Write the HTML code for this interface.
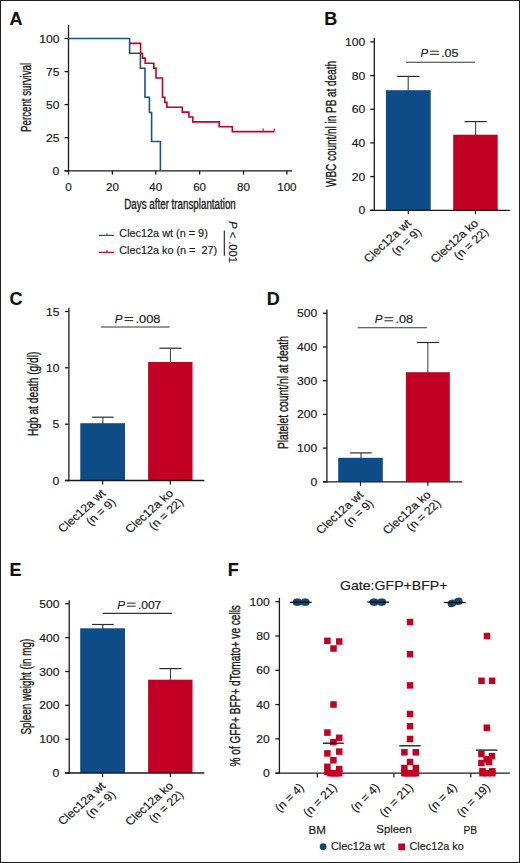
<!DOCTYPE html><html><head><meta charset="utf-8"><style>html,body{margin:0;padding:0;background:#fff;}svg{display:block;}text{font-family:"Liberation Sans",sans-serif;stroke:#1a1a1a;stroke-width:0.18px;}</style></head><body>
<svg width="520" height="863" viewBox="0 0 520 863">
<rect x="0" y="0" width="520" height="863" fill="#fff"/>
<text x="9.6" y="24.7" font-size="18" font-weight="bold" fill="#111">A</text>
<text x="324.3" y="24.7" font-size="18" font-weight="bold" fill="#111">B</text>
<text x="9.6" y="305" font-size="18" font-weight="bold" fill="#111">C</text>
<text x="266.8" y="304.8" font-size="18" font-weight="bold" fill="#111">D</text>
<text x="9.6" y="576.1" font-size="18" font-weight="bold" fill="#111">E</text>
<text x="227.7" y="576.2" font-size="18" font-weight="bold" fill="#111">F</text>
<line x1="68.5" y1="24.8" x2="68.5" y2="171.45000000000002" stroke="#1a1a1a" stroke-width="1.3"/>
<line x1="64.5" y1="38.5" x2="68.5" y2="38.5" stroke="#1a1a1a" stroke-width="1.3"/>
<text x="59.4" y="42.5" font-size="11.2" text-anchor="end" textLength="20.2" lengthAdjust="spacingAndGlyphs" fill="#1a1a1a">100</text>
<line x1="64.5" y1="71.6" x2="68.5" y2="71.6" stroke="#1a1a1a" stroke-width="1.3"/>
<text x="59.4" y="75.6" font-size="11.2" text-anchor="end" textLength="13.5" lengthAdjust="spacingAndGlyphs" fill="#1a1a1a">75</text>
<line x1="64.5" y1="104.6" x2="68.5" y2="104.6" stroke="#1a1a1a" stroke-width="1.3"/>
<text x="59.4" y="108.6" font-size="11.2" text-anchor="end" textLength="13.5" lengthAdjust="spacingAndGlyphs" fill="#1a1a1a">50</text>
<line x1="64.5" y1="137.7" x2="68.5" y2="137.7" stroke="#1a1a1a" stroke-width="1.3"/>
<text x="59.4" y="141.7" font-size="11.2" text-anchor="end" textLength="13.5" lengthAdjust="spacingAndGlyphs" fill="#1a1a1a">25</text>
<line x1="64.5" y1="170.8" x2="68.5" y2="170.8" stroke="#1a1a1a" stroke-width="1.3"/>
<text x="59.4" y="174.8" font-size="11.2" text-anchor="end" textLength="6.8" lengthAdjust="spacingAndGlyphs" fill="#1a1a1a">0</text>
<line x1="64.5" y1="170.8" x2="292" y2="170.8" stroke="#1a1a1a" stroke-width="1.3"/>
<line x1="68.5" y1="170.8" x2="68.5" y2="174.6" stroke="#1a1a1a" stroke-width="1.3"/>
<text x="68.5" y="190.6" font-size="11.2" text-anchor="middle" textLength="6.5" lengthAdjust="spacingAndGlyphs" fill="#1a1a1a">0</text>
<line x1="112.4" y1="170.8" x2="112.4" y2="174.6" stroke="#1a1a1a" stroke-width="1.3"/>
<text x="112.4" y="190.6" font-size="11.2" text-anchor="middle" textLength="12.9" lengthAdjust="spacingAndGlyphs" fill="#1a1a1a">20</text>
<line x1="155.8" y1="170.8" x2="155.8" y2="174.6" stroke="#1a1a1a" stroke-width="1.3"/>
<text x="155.8" y="190.6" font-size="11.2" text-anchor="middle" textLength="12.9" lengthAdjust="spacingAndGlyphs" fill="#1a1a1a">40</text>
<line x1="199.6" y1="170.8" x2="199.6" y2="174.6" stroke="#1a1a1a" stroke-width="1.3"/>
<text x="199.6" y="190.6" font-size="11.2" text-anchor="middle" textLength="12.9" lengthAdjust="spacingAndGlyphs" fill="#1a1a1a">60</text>
<line x1="243.5" y1="170.8" x2="243.5" y2="174.6" stroke="#1a1a1a" stroke-width="1.3"/>
<text x="243.5" y="190.6" font-size="11.2" text-anchor="middle" textLength="12.9" lengthAdjust="spacingAndGlyphs" fill="#1a1a1a">80</text>
<line x1="286.9" y1="170.8" x2="286.9" y2="174.6" stroke="#1a1a1a" stroke-width="1.3"/>
<text x="286.9" y="190.6" font-size="11.2" text-anchor="middle" textLength="19.4" lengthAdjust="spacingAndGlyphs" fill="#1a1a1a">100</text>
<text x="124.3" y="209.3" font-size="14" textLength="111.5" lengthAdjust="spacingAndGlyphs" style="stroke-width:0.35px" fill="#1a1a1a">Days after transplantation</text>
<text transform="translate(30.9,131.9) rotate(-90)" x="0" y="0" font-size="14" textLength="69" lengthAdjust="spacingAndGlyphs" style="stroke-width:0.35px" fill="#1a1a1a">Percent survival</text>
<path d="M129.6,43.4 H140.6 V53.4 H142.5 V58.1 H145.2 V63.2 H153.8 V68.1 H156 V78 H162.5 V97.3 H164.8 V102.4 H166.9 V107.2 H182.3 V112.1 H188.9 V117 H192.8 V121.9 H219.2 V126.8 H232.3 V131.6 H274.2" fill="none" stroke="#c10023" stroke-width="1.6"/>
<path d="M263.1,131.6 V128.3 M274.2,131.6 V128.3" fill="none" stroke="#c10023" stroke-width="1"/>
<path d="M68.5,38.5 H129.6 V53.2 H140.4 V68.2 H145 V97.3 H149.4 V112.5 H151.6 V141.5 H160.4 V170.8" fill="none" stroke="#1f5287" stroke-width="1.6"/>
<line x1="98.8" y1="235.4" x2="114.2" y2="235.4" stroke="#1f5287" stroke-width="1.2"/>
<line x1="107" y1="235.4" x2="107" y2="233.2" stroke="#1f5287" stroke-width="1"/>
<line x1="98.8" y1="252.3" x2="114.2" y2="252.3" stroke="#c10023" stroke-width="1.2"/>
<line x1="107" y1="252.3" x2="107" y2="250.1" stroke="#c10023" stroke-width="1"/>
<text x="119.3" y="237.3" font-size="11.2" textLength="88.5" lengthAdjust="spacingAndGlyphs" fill="#1a1a1a">Clec12a wt (n = 9)</text>
<text x="119.3" y="254.2" font-size="11.2" textLength="97.8" lengthAdjust="spacingAndGlyphs" xml:space="preserve" fill="#1a1a1a">Clec12a ko (n =  27)</text>
<line x1="224.3" y1="230.4" x2="224.3" y2="255.8" stroke="#1a1a1a" stroke-width="1.1"/>
<text transform="translate(229.3,221.3) rotate(90)" x="0" y="0" font-size="11" textLength="41.5" lengthAdjust="spacingAndGlyphs" fill="#1a1a1a"><tspan font-style="italic">P</tspan> &lt; .001</text>
<line x1="408.2" y1="76.4" x2="408.2" y2="91.2" stroke="#444" stroke-width="1.1"/>
<line x1="396.9" y1="76.4" x2="419.5" y2="76.4" stroke="#2a2a2a" stroke-width="1.2"/>
<line x1="475.6" y1="121.6" x2="475.6" y2="135.7" stroke="#444" stroke-width="1.1"/>
<line x1="464.5" y1="121.6" x2="486.7" y2="121.6" stroke="#2a2a2a" stroke-width="1.2"/>
<rect x="385.9" y="90.2" width="44.8" height="120.1" fill="#0d4c87"/>
<rect x="453.2" y="134.7" width="44.5" height="75.6" fill="#c10023"/>
<line x1="374.3" y1="37.7" x2="374.3" y2="210.95000000000002" stroke="#1a1a1a" stroke-width="1.3"/>
<line x1="370.3" y1="41.9" x2="374.3" y2="41.9" stroke="#1a1a1a" stroke-width="1.3"/>
<text x="365.2" y="45.9" font-size="11.2" text-anchor="end" textLength="20.2" lengthAdjust="spacingAndGlyphs" fill="#1a1a1a">100</text>
<line x1="370.3" y1="75.6" x2="374.3" y2="75.6" stroke="#1a1a1a" stroke-width="1.3"/>
<text x="365.2" y="79.6" font-size="11.2" text-anchor="end" textLength="13.5" lengthAdjust="spacingAndGlyphs" fill="#1a1a1a">80</text>
<line x1="370.3" y1="109.3" x2="374.3" y2="109.3" stroke="#1a1a1a" stroke-width="1.3"/>
<text x="365.2" y="113.3" font-size="11.2" text-anchor="end" textLength="13.5" lengthAdjust="spacingAndGlyphs" fill="#1a1a1a">60</text>
<line x1="370.3" y1="142.9" x2="374.3" y2="142.9" stroke="#1a1a1a" stroke-width="1.3"/>
<text x="365.2" y="146.9" font-size="11.2" text-anchor="end" textLength="13.5" lengthAdjust="spacingAndGlyphs" fill="#1a1a1a">40</text>
<line x1="370.3" y1="176.6" x2="374.3" y2="176.6" stroke="#1a1a1a" stroke-width="1.3"/>
<text x="365.2" y="180.6" font-size="11.2" text-anchor="end" textLength="13.5" lengthAdjust="spacingAndGlyphs" fill="#1a1a1a">20</text>
<line x1="370.3" y1="210.3" x2="374.3" y2="210.3" stroke="#1a1a1a" stroke-width="1.3"/>
<text x="365.2" y="214.3" font-size="11.2" text-anchor="end" textLength="6.8" lengthAdjust="spacingAndGlyphs" fill="#1a1a1a">0</text>
<line x1="370.3" y1="210.3" x2="510" y2="210.3" stroke="#1a1a1a" stroke-width="1.3"/>
<line x1="408.29999999999995" y1="210.3" x2="408.29999999999995" y2="214.3" stroke="#1a1a1a" stroke-width="1.2"/>
<line x1="475.45" y1="210.3" x2="475.45" y2="214.3" stroke="#1a1a1a" stroke-width="1.2"/>
<line x1="405.9" y1="62.2" x2="475.1" y2="62.2" stroke="#333" stroke-width="1.1"/>
<text x="420.4" y="56.699999999999996" font-size="11.6" font-style="italic" fill="#1a1a1a">P</text>
<path d="M430.1,51.2 h8.8 M430.1,54.3 h8.8" stroke="#1a1a1a" stroke-width="0.95" fill="none"/>
<text x="441.1" y="56.699999999999996" font-size="11.6" textLength="17.5" lengthAdjust="spacingAndGlyphs" fill="#1a1a1a">.05</text>
<text transform="translate(336.1,187.0) rotate(-90)" x="0" y="0" font-size="14" textLength="126" lengthAdjust="spacingAndGlyphs" style="stroke-width:0.35px" fill="#1a1a1a">WBC count/nl in PB at death</text>
<g transform="translate(412.0,224.0) scale(1.105,1) rotate(-45)" fill="#1a1a1a" font-size="11.2" text-anchor="end"><text x="0" y="0">Clec12a wt</text><text x="0.3" y="12.6">(n = 9)</text></g>
<g transform="translate(479.15,224.0) scale(1.105,1) rotate(-45)" fill="#1a1a1a" font-size="11.2" text-anchor="end"><text x="0" y="0">Clec12a ko</text><text x="0.3" y="12.6">(n = 22)</text></g>
<line x1="102.9" y1="417.2" x2="102.9" y2="424.2" stroke="#444" stroke-width="1.1"/>
<line x1="92.1" y1="417.2" x2="113.7" y2="417.2" stroke="#2a2a2a" stroke-width="1.2"/>
<line x1="170.45" y1="348.2" x2="170.45" y2="363" stroke="#444" stroke-width="1.1"/>
<line x1="159.4" y1="348.2" x2="181.5" y2="348.2" stroke="#2a2a2a" stroke-width="1.2"/>
<rect x="80.3" y="423.2" width="44.7" height="57.3" fill="#0d4c87"/>
<rect x="148.1" y="362" width="44.4" height="118.5" fill="#c10023"/>
<line x1="68.9" y1="307.8" x2="68.9" y2="481.15" stroke="#1a1a1a" stroke-width="1.3"/>
<line x1="64.9" y1="311.5" x2="68.9" y2="311.5" stroke="#1a1a1a" stroke-width="1.3"/>
<text x="59.4" y="315.5" font-size="11.2" text-anchor="end" textLength="13.5" lengthAdjust="spacingAndGlyphs" fill="#1a1a1a">15</text>
<line x1="64.9" y1="367.8" x2="68.9" y2="367.8" stroke="#1a1a1a" stroke-width="1.3"/>
<text x="59.4" y="371.8" font-size="11.2" text-anchor="end" textLength="13.5" lengthAdjust="spacingAndGlyphs" fill="#1a1a1a">10</text>
<line x1="64.9" y1="424.2" x2="68.9" y2="424.2" stroke="#1a1a1a" stroke-width="1.3"/>
<text x="59.4" y="428.2" font-size="11.2" text-anchor="end" textLength="6.8" lengthAdjust="spacingAndGlyphs" fill="#1a1a1a">5</text>
<line x1="64.9" y1="480.5" x2="68.9" y2="480.5" stroke="#1a1a1a" stroke-width="1.3"/>
<text x="59.4" y="484.5" font-size="11.2" text-anchor="end" textLength="6.8" lengthAdjust="spacingAndGlyphs" fill="#1a1a1a">0</text>
<line x1="64.9" y1="480.5" x2="204.4" y2="480.5" stroke="#1a1a1a" stroke-width="1.3"/>
<line x1="102.65" y1="480.5" x2="102.65" y2="484.5" stroke="#1a1a1a" stroke-width="1.2"/>
<line x1="170.3" y1="480.5" x2="170.3" y2="484.5" stroke="#1a1a1a" stroke-width="1.2"/>
<line x1="101" y1="327" x2="169.7" y2="327" stroke="#333" stroke-width="1.1"/>
<text x="114.8" y="323.0" font-size="11.6" font-style="italic" fill="#1a1a1a">P</text>
<path d="M124.5,317.5 h8.8 M124.5,320.6 h8.8" stroke="#1a1a1a" stroke-width="0.95" fill="none"/>
<text x="135.5" y="323.0" font-size="11.6" textLength="25.0" lengthAdjust="spacingAndGlyphs" fill="#1a1a1a">.008</text>
<text transform="translate(37.8,436.1) rotate(-90)" x="0" y="0" font-size="14" textLength="84.5" lengthAdjust="spacingAndGlyphs" style="stroke-width:0.35px" fill="#1a1a1a">Hgb at death (g/dl)</text>
<g transform="translate(106.35,494.2) scale(1.105,1) rotate(-45)" fill="#1a1a1a" font-size="11.2" text-anchor="end"><text x="0" y="0">Clec12a wt</text><text x="0.3" y="12.6">(n = 9)</text></g>
<g transform="translate(174.0,494.2) scale(1.105,1) rotate(-45)" fill="#1a1a1a" font-size="11.2" text-anchor="end"><text x="0" y="0">Clec12a ko</text><text x="0.3" y="12.6">(n = 22)</text></g>
<line x1="360.95" y1="452.9" x2="360.95" y2="458.8" stroke="#444" stroke-width="1.1"/>
<line x1="350.2" y1="452.9" x2="371.7" y2="452.9" stroke="#2a2a2a" stroke-width="1.2"/>
<line x1="427.85" y1="342.5" x2="427.85" y2="373.2" stroke="#444" stroke-width="1.1"/>
<line x1="416.7" y1="342.5" x2="439" y2="342.5" stroke="#2a2a2a" stroke-width="1.2"/>
<rect x="338.2" y="457.8" width="44.6" height="24.0" fill="#0d4c87"/>
<rect x="405.9" y="372.2" width="43.9" height="109.6" fill="#c10023"/>
<line x1="326.9" y1="309.5" x2="326.9" y2="482.45" stroke="#1a1a1a" stroke-width="1.3"/>
<line x1="322.9" y1="313.3" x2="326.9" y2="313.3" stroke="#1a1a1a" stroke-width="1.3"/>
<text x="317.2" y="317.3" font-size="11.2" text-anchor="end" textLength="20.2" lengthAdjust="spacingAndGlyphs" fill="#1a1a1a">500</text>
<line x1="322.9" y1="347" x2="326.9" y2="347" stroke="#1a1a1a" stroke-width="1.3"/>
<text x="317.2" y="351.0" font-size="11.2" text-anchor="end" textLength="20.2" lengthAdjust="spacingAndGlyphs" fill="#1a1a1a">400</text>
<line x1="322.9" y1="380.7" x2="326.9" y2="380.7" stroke="#1a1a1a" stroke-width="1.3"/>
<text x="317.2" y="384.7" font-size="11.2" text-anchor="end" textLength="20.2" lengthAdjust="spacingAndGlyphs" fill="#1a1a1a">300</text>
<line x1="322.9" y1="414.4" x2="326.9" y2="414.4" stroke="#1a1a1a" stroke-width="1.3"/>
<text x="317.2" y="418.4" font-size="11.2" text-anchor="end" textLength="20.2" lengthAdjust="spacingAndGlyphs" fill="#1a1a1a">200</text>
<line x1="322.9" y1="448.1" x2="326.9" y2="448.1" stroke="#1a1a1a" stroke-width="1.3"/>
<text x="317.2" y="452.1" font-size="11.2" text-anchor="end" textLength="20.2" lengthAdjust="spacingAndGlyphs" fill="#1a1a1a">100</text>
<line x1="322.9" y1="481.8" x2="326.9" y2="481.8" stroke="#1a1a1a" stroke-width="1.3"/>
<text x="317.2" y="485.8" font-size="11.2" text-anchor="end" textLength="6.8" lengthAdjust="spacingAndGlyphs" fill="#1a1a1a">0</text>
<line x1="322.9" y1="481.8" x2="462" y2="481.8" stroke="#1a1a1a" stroke-width="1.3"/>
<line x1="360.5" y1="481.8" x2="360.5" y2="485.8" stroke="#1a1a1a" stroke-width="1.2"/>
<line x1="427.85" y1="481.8" x2="427.85" y2="485.8" stroke="#1a1a1a" stroke-width="1.2"/>
<line x1="357.7" y1="327.7" x2="426.9" y2="327.7" stroke="#333" stroke-width="1.1"/>
<text x="374.7" y="323.2" font-size="11.6" font-style="italic" fill="#1a1a1a">P</text>
<path d="M384.4,317.7 h8.8 M384.4,320.8 h8.8" stroke="#1a1a1a" stroke-width="0.95" fill="none"/>
<text x="395.4" y="323.2" font-size="11.6" textLength="17.8" lengthAdjust="spacingAndGlyphs" fill="#1a1a1a">.08</text>
<text transform="translate(288.0,449.1) rotate(-90)" x="0" y="0" font-size="14" textLength="113" lengthAdjust="spacingAndGlyphs" style="stroke-width:0.35px" fill="#1a1a1a">Platelet count/nl at death</text>
<g transform="translate(364.2,495.5) scale(1.105,1) rotate(-45)" fill="#1a1a1a" font-size="11.2" text-anchor="end"><text x="0" y="0">Clec12a wt</text><text x="0.3" y="12.6">(n = 9)</text></g>
<g transform="translate(431.55,495.5) scale(1.105,1) rotate(-45)" fill="#1a1a1a" font-size="11.2" text-anchor="end"><text x="0" y="0">Clec12a ko</text><text x="0.3" y="12.6">(n = 22)</text></g>
<line x1="102.9" y1="624.5" x2="102.9" y2="629.3" stroke="#444" stroke-width="1.1"/>
<line x1="92.1" y1="624.5" x2="113.7" y2="624.5" stroke="#2a2a2a" stroke-width="1.2"/>
<line x1="170.45" y1="668.6" x2="170.45" y2="680.7" stroke="#444" stroke-width="1.1"/>
<line x1="159.4" y1="668.6" x2="181.5" y2="668.6" stroke="#2a2a2a" stroke-width="1.2"/>
<rect x="80.2" y="628.3" width="44.8" height="144.7" fill="#0d4c87"/>
<rect x="148.1" y="679.7" width="44.4" height="93.3" fill="#c10023"/>
<line x1="69.2" y1="600.2" x2="69.2" y2="773.65" stroke="#1a1a1a" stroke-width="1.3"/>
<line x1="65.2" y1="603.8" x2="69.2" y2="603.8" stroke="#1a1a1a" stroke-width="1.3"/>
<text x="59.4" y="607.8" font-size="11.2" text-anchor="end" textLength="20.2" lengthAdjust="spacingAndGlyphs" fill="#1a1a1a">500</text>
<line x1="65.2" y1="637.7" x2="69.2" y2="637.7" stroke="#1a1a1a" stroke-width="1.3"/>
<text x="59.4" y="641.7" font-size="11.2" text-anchor="end" textLength="20.2" lengthAdjust="spacingAndGlyphs" fill="#1a1a1a">400</text>
<line x1="65.2" y1="671.5" x2="69.2" y2="671.5" stroke="#1a1a1a" stroke-width="1.3"/>
<text x="59.4" y="675.5" font-size="11.2" text-anchor="end" textLength="20.2" lengthAdjust="spacingAndGlyphs" fill="#1a1a1a">300</text>
<line x1="65.2" y1="705.3" x2="69.2" y2="705.3" stroke="#1a1a1a" stroke-width="1.3"/>
<text x="59.4" y="709.3" font-size="11.2" text-anchor="end" textLength="20.2" lengthAdjust="spacingAndGlyphs" fill="#1a1a1a">200</text>
<line x1="65.2" y1="739.2" x2="69.2" y2="739.2" stroke="#1a1a1a" stroke-width="1.3"/>
<text x="59.4" y="743.2" font-size="11.2" text-anchor="end" textLength="20.2" lengthAdjust="spacingAndGlyphs" fill="#1a1a1a">100</text>
<line x1="65.2" y1="773" x2="69.2" y2="773" stroke="#1a1a1a" stroke-width="1.3"/>
<text x="59.4" y="777.0" font-size="11.2" text-anchor="end" textLength="6.8" lengthAdjust="spacingAndGlyphs" fill="#1a1a1a">0</text>
<line x1="65.2" y1="773" x2="204.4" y2="773" stroke="#1a1a1a" stroke-width="1.3"/>
<line x1="102.6" y1="773" x2="102.6" y2="777" stroke="#1a1a1a" stroke-width="1.2"/>
<line x1="170.3" y1="773" x2="170.3" y2="777" stroke="#1a1a1a" stroke-width="1.2"/>
<line x1="102.9" y1="613.4" x2="172.1" y2="613.4" stroke="#333" stroke-width="1.1"/>
<text x="117.2" y="608.5999999999999" font-size="11.6" font-style="italic" fill="#1a1a1a">P</text>
<path d="M126.9,603.1 h8.8 M126.9,606.2 h8.8" stroke="#1a1a1a" stroke-width="0.95" fill="none"/>
<text x="137.9" y="608.5999999999999" font-size="11.6" textLength="23.4" lengthAdjust="spacingAndGlyphs" fill="#1a1a1a">.007</text>
<text transform="translate(30.6,734.6) rotate(-90)" x="0" y="0" font-size="14" textLength="96" lengthAdjust="spacingAndGlyphs" style="stroke-width:0.35px" fill="#1a1a1a">Spleen weight (in mg)</text>
<g transform="translate(106.3,786.7) scale(1.105,1) rotate(-45)" fill="#1a1a1a" font-size="11.2" text-anchor="end"><text x="0" y="0">Clec12a wt</text><text x="0.3" y="12.6">(n = 9)</text></g>
<g transform="translate(174.0,786.7) scale(1.105,1) rotate(-45)" fill="#1a1a1a" font-size="11.2" text-anchor="end"><text x="0" y="0">Clec12a ko</text><text x="0.3" y="12.6">(n = 22)</text></g>
<line x1="279.4" y1="597.7" x2="279.4" y2="773.85" stroke="#1a1a1a" stroke-width="1.3"/>
<line x1="275.4" y1="601.7" x2="279.4" y2="601.7" stroke="#1a1a1a" stroke-width="1.3"/>
<text x="269.8" y="605.7" font-size="11.2" text-anchor="end" textLength="20.2" lengthAdjust="spacingAndGlyphs" fill="#1a1a1a">100</text>
<line x1="275.4" y1="636" x2="279.4" y2="636" stroke="#1a1a1a" stroke-width="1.3"/>
<text x="269.8" y="640.0" font-size="11.2" text-anchor="end" textLength="13.5" lengthAdjust="spacingAndGlyphs" fill="#1a1a1a">80</text>
<line x1="275.4" y1="670.3" x2="279.4" y2="670.3" stroke="#1a1a1a" stroke-width="1.3"/>
<text x="269.8" y="674.3" font-size="11.2" text-anchor="end" textLength="13.5" lengthAdjust="spacingAndGlyphs" fill="#1a1a1a">60</text>
<line x1="275.4" y1="704.6" x2="279.4" y2="704.6" stroke="#1a1a1a" stroke-width="1.3"/>
<text x="269.8" y="708.6" font-size="11.2" text-anchor="end" textLength="13.5" lengthAdjust="spacingAndGlyphs" fill="#1a1a1a">40</text>
<line x1="275.4" y1="738.9" x2="279.4" y2="738.9" stroke="#1a1a1a" stroke-width="1.3"/>
<text x="269.8" y="742.9" font-size="11.2" text-anchor="end" textLength="13.5" lengthAdjust="spacingAndGlyphs" fill="#1a1a1a">20</text>
<line x1="275.4" y1="773.2" x2="279.4" y2="773.2" stroke="#1a1a1a" stroke-width="1.3"/>
<text x="269.8" y="777.2" font-size="11.2" text-anchor="end" textLength="6.8" lengthAdjust="spacingAndGlyphs" fill="#1a1a1a">0</text>
<line x1="275.4" y1="773.2" x2="509.8" y2="773.2" stroke="#1a1a1a" stroke-width="1.3"/>
<line x1="317.3" y1="773.2" x2="317.3" y2="777.5" stroke="#1a1a1a" stroke-width="1.2"/>
<line x1="393.9" y1="773.2" x2="393.9" y2="777.5" stroke="#1a1a1a" stroke-width="1.2"/>
<line x1="470.8" y1="773.2" x2="470.8" y2="777.5" stroke="#1a1a1a" stroke-width="1.2"/>
<text x="340" y="590" font-size="13.4" textLength="107.5" lengthAdjust="spacingAndGlyphs" fill="#1a1a1a">Gate:GFP+BFP+</text>
<text transform="translate(240.2,766.4) rotate(-90)" x="0" y="0" font-size="14" textLength="161.3" lengthAdjust="spacingAndGlyphs" style="stroke-width:0.35px" fill="#1a1a1a">% of GFP+ BFP+ dTomato+ ve cells</text>
<circle cx="296.3" cy="602.2" r="3.6" fill="#17436f"/>
<circle cx="298.3" cy="602.2" r="3.6" fill="#17436f"/>
<circle cx="304.3" cy="602.2" r="3.6" fill="#17436f"/>
<circle cx="306.0" cy="602.2" r="3.6" fill="#17436f"/>
<line x1="290.2" y1="602.3" x2="311.7" y2="602.3" stroke="#111" stroke-width="1.3"/>
<circle cx="373.2" cy="602.1" r="3.6" fill="#17436f"/>
<circle cx="375.0" cy="602.1" r="3.6" fill="#17436f"/>
<circle cx="380.8" cy="602.1" r="3.6" fill="#17436f"/>
<circle cx="382.6" cy="602.1" r="3.6" fill="#17436f"/>
<line x1="367.2" y1="602.1" x2="389" y2="602.1" stroke="#111" stroke-width="1.3"/>
<circle cx="451.3" cy="603.6" r="3.6" fill="#17436f"/>
<circle cx="452.5" cy="603.2" r="3.6" fill="#17436f"/>
<circle cx="457.5" cy="601.5" r="3.6" fill="#17436f"/>
<circle cx="459.0" cy="601.2" r="3.6" fill="#17436f"/>
<line x1="444.1" y1="602.5" x2="465.7" y2="602.5" stroke="#111" stroke-width="1.3"/>
<rect x="324.15" y="637.55" width="6.5" height="6.5" fill="#c10023"/>
<rect x="335.95" y="638.25" width="6.5" height="6.5" fill="#c10023"/>
<rect x="330.25" y="645.25" width="6.5" height="6.5" fill="#c10023"/>
<rect x="330.25" y="701.25" width="6.5" height="6.5" fill="#c10023"/>
<rect x="324.15" y="729.35" width="6.5" height="6.5" fill="#c10023"/>
<rect x="335.95" y="734.55" width="6.5" height="6.5" fill="#c10023"/>
<rect x="330.15" y="738.85" width="6.5" height="6.5" fill="#c10023"/>
<rect x="335.95" y="748.35" width="6.5" height="6.5" fill="#c10023"/>
<rect x="324.15" y="750.15" width="6.5" height="6.5" fill="#c10023"/>
<rect x="330.15" y="757.05" width="6.5" height="6.5" fill="#c10023"/>
<rect x="324.15" y="763.55" width="6.5" height="6.5" fill="#c10023"/>
<rect x="335.95" y="765.75" width="6.5" height="6.5" fill="#c10023"/>
<rect x="324.15" y="768.75" width="6.5" height="6.5" fill="#c10023"/>
<rect x="330.15" y="769.95" width="6.5" height="6.5" fill="#c10023"/>
<rect x="335.95" y="769.95" width="6.5" height="6.5" fill="#c10023"/>
<rect x="327.25" y="769.95" width="6.5" height="6.5" fill="#c10023"/>
<rect x="333.05" y="769.95" width="6.5" height="6.5" fill="#c10023"/>
<line x1="322.8" y1="743.2" x2="343.8" y2="743.2" stroke="#111" stroke-width="1.3"/>
<rect x="406.85" y="618.75" width="6.5" height="6.5" fill="#c10023"/>
<rect x="406.85" y="650.95" width="6.5" height="6.5" fill="#c10023"/>
<rect x="406.85" y="682.15" width="6.5" height="6.5" fill="#c10023"/>
<rect x="406.85" y="710.75" width="6.5" height="6.5" fill="#c10023"/>
<rect x="406.85" y="722.95" width="6.5" height="6.5" fill="#c10023"/>
<rect x="406.85" y="735.75" width="6.5" height="6.5" fill="#c10023"/>
<rect x="401.15" y="749.05" width="6.5" height="6.5" fill="#c10023"/>
<rect x="412.55" y="749.05" width="6.5" height="6.5" fill="#c10023"/>
<rect x="406.85" y="758.75" width="6.5" height="6.5" fill="#c10023"/>
<rect x="401.15" y="764.75" width="6.5" height="6.5" fill="#c10023"/>
<rect x="412.55" y="764.75" width="6.5" height="6.5" fill="#c10023"/>
<rect x="401.15" y="769.95" width="6.5" height="6.5" fill="#c10023"/>
<rect x="406.85" y="769.95" width="6.5" height="6.5" fill="#c10023"/>
<rect x="412.55" y="769.95" width="6.5" height="6.5" fill="#c10023"/>
<rect x="403.75" y="769.95" width="6.5" height="6.5" fill="#c10023"/>
<rect x="409.75" y="769.95" width="6.5" height="6.5" fill="#c10023"/>
<line x1="399.3" y1="745.8" x2="420.6" y2="745.8" stroke="#111" stroke-width="1.3"/>
<rect x="483.75" y="632.75" width="6.5" height="6.5" fill="#c10023"/>
<rect x="478.25" y="677.55" width="6.5" height="6.5" fill="#c10023"/>
<rect x="488.85" y="677.55" width="6.5" height="6.5" fill="#c10023"/>
<rect x="483.55" y="724.45" width="6.5" height="6.5" fill="#c10023"/>
<rect x="478.15" y="750.85" width="6.5" height="6.5" fill="#c10023"/>
<rect x="488.75" y="752.85" width="6.5" height="6.5" fill="#c10023"/>
<rect x="483.45" y="756.05" width="6.5" height="6.5" fill="#c10023"/>
<rect x="478.15" y="759.75" width="6.5" height="6.5" fill="#c10023"/>
<rect x="485.75" y="758.75" width="6.5" height="6.5" fill="#c10023"/>
<rect x="479.25" y="768.05" width="6.5" height="6.5" fill="#c10023"/>
<rect x="489.05" y="768.05" width="6.5" height="6.5" fill="#c10023"/>
<rect x="479.25" y="769.95" width="6.5" height="6.5" fill="#c10023"/>
<rect x="483.75" y="769.95" width="6.5" height="6.5" fill="#c10023"/>
<rect x="489.05" y="769.95" width="6.5" height="6.5" fill="#c10023"/>
<line x1="476" y1="750.1" x2="497.4" y2="750.1" stroke="#111" stroke-width="1.3"/>
<text transform="translate(304.5,788.1) rotate(-45)" x="0" y="0" font-size="12" text-anchor="end" fill="#1a1a1a">(n = 4)</text>
<text transform="translate(337.6,788.1) rotate(-45)" x="0" y="0" font-size="12" text-anchor="end" fill="#1a1a1a">(n = 21)</text>
<text transform="translate(380.3,788.1) rotate(-45)" x="0" y="0" font-size="12" text-anchor="end" fill="#1a1a1a">(n = 4)</text>
<text transform="translate(413.8,788.1) rotate(-45)" x="0" y="0" font-size="12" text-anchor="end" fill="#1a1a1a">(n = 21)</text>
<text transform="translate(457.6,788.1) rotate(-45)" x="0" y="0" font-size="12" text-anchor="end" fill="#1a1a1a">(n = 4)</text>
<text transform="translate(490.9,788.1) rotate(-45)" x="0" y="0" font-size="12" text-anchor="end" fill="#1a1a1a">(n = 19)</text>
<text x="308.5" y="833.7" font-size="10.8" textLength="17.4" lengthAdjust="spacingAndGlyphs" fill="#1a1a1a">BM</text>
<text x="376.3" y="833.4" font-size="10.8" textLength="35.5" lengthAdjust="spacingAndGlyphs" fill="#1a1a1a">Spleen</text>
<text x="463.5" y="833.7" font-size="10.8" textLength="13.6" lengthAdjust="spacingAndGlyphs" fill="#1a1a1a">PB</text>
<circle cx="323.1" cy="846.7" r="3.4" fill="#17436f"/>
<text x="330.9" y="850.1" font-size="11.2" textLength="53.8" lengthAdjust="spacingAndGlyphs" fill="#1a1a1a">Clec12a wt</text>
<rect x="398.3" y="843.5" width="6.7" height="6.7" fill="#c10023"/>
<text x="409.5" y="850.1" font-size="11.2" textLength="54.2" lengthAdjust="spacingAndGlyphs" fill="#1a1a1a">Clec12a ko</text>
<rect x="0.5" y="0.5" width="519" height="862" fill="none" stroke="#1e1e1e" stroke-width="1"/>
</svg></body></html>
